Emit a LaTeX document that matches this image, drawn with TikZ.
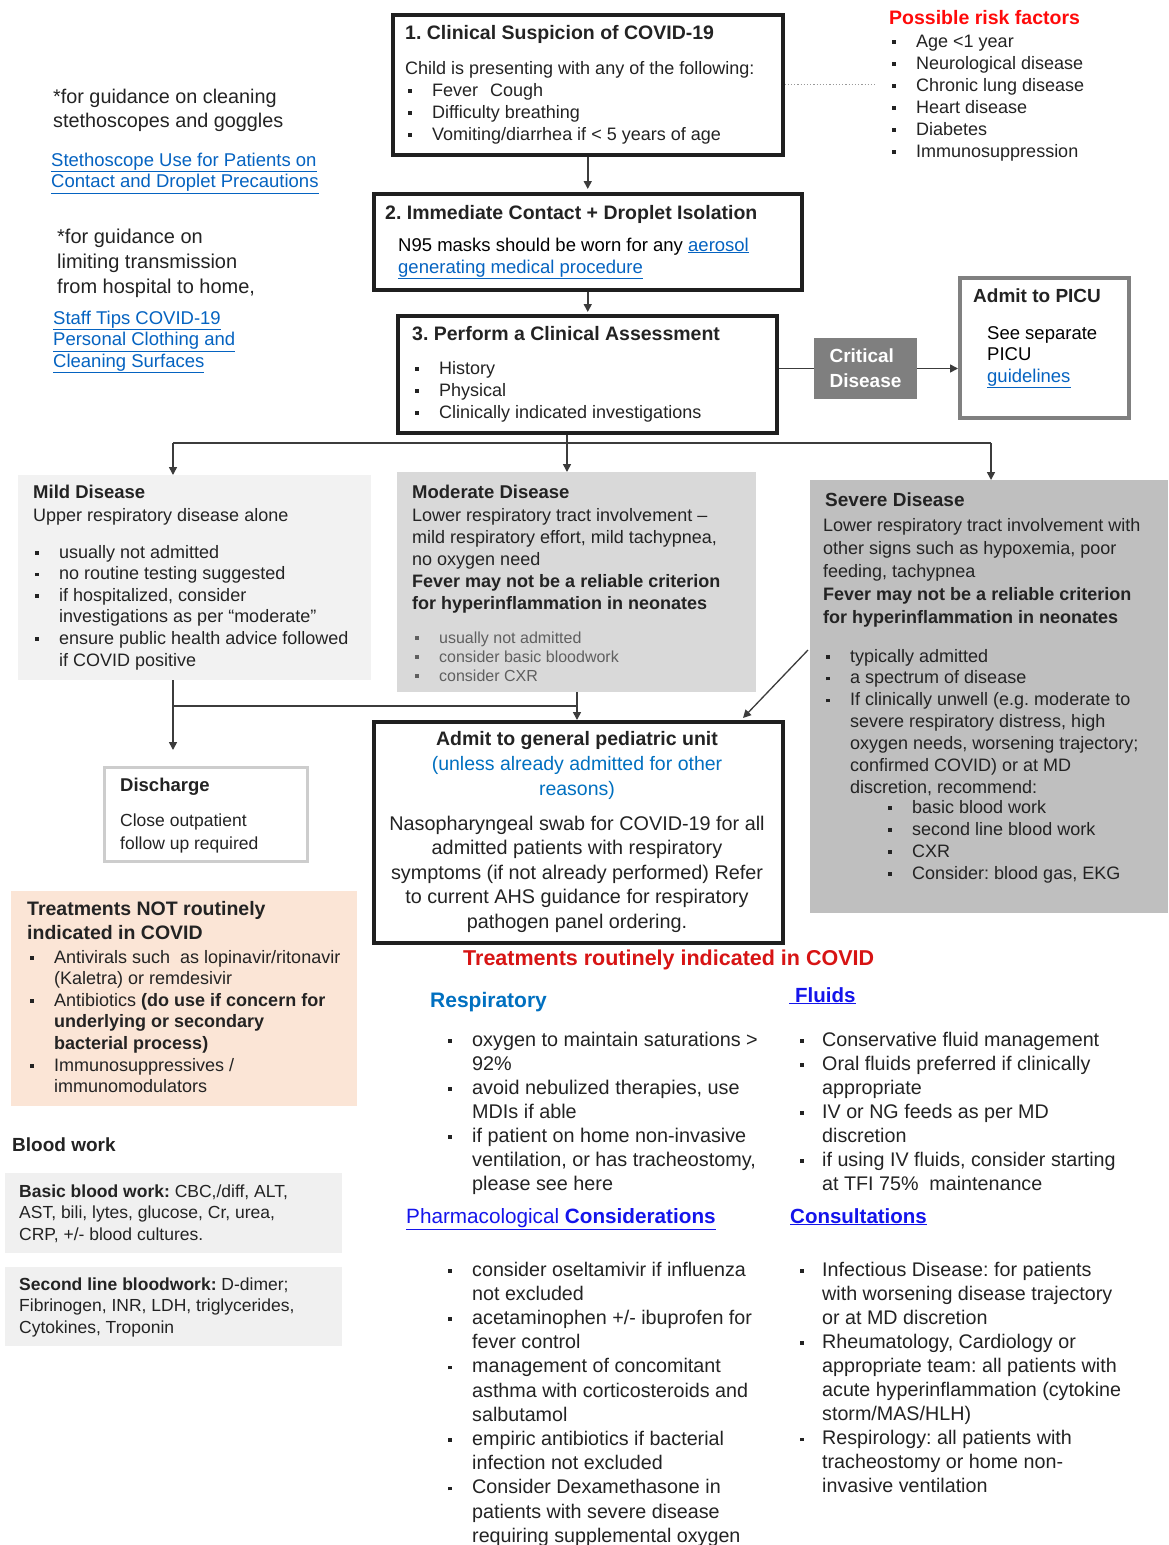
\documentclass[tikz,border=0pt]{standalone}
\usepackage{fontspec}
\setmainfont{Liberation Sans}
\usetikzlibrary{arrows.meta}
\frenchspacing
\definecolor{txtc}{RGB}{35,35,35}
\definecolor{linkc}{RGB}{5,99,193}
\definecolor{blueh}{RGB}{0,112,192}
\definecolor{pureb}{RGB}{20,20,235}
\definecolor{redr}{RGB}{255,10,10}
\definecolor{redt}{RGB}{215,20,20}
\definecolor{mildc}{RGB}{242,242,242}
\definecolor{modc}{RGB}{217,217,217}
\definecolor{sevc}{RGB}{191,191,191}
\definecolor{critc}{RGB}{127,127,127}
\definecolor{peach}{RGB}{251,229,214}
\definecolor{bloodc}{RGB}{240,240,240}
\definecolor{picuc}{RGB}{128,128,128}
\definecolor{disc}{RGB}{205,205,205}
\definecolor{linec}{RGB}{60,60,60}
\definecolor{smallg}{RGB}{95,95,95}
\newcommand\fs[2]{\fontsize{#1}{#2}\selectfont}
\newcommand\bu{\makebox[24pt][l]{\rule[3.5pt]{3.6pt}{3.6pt}}}
\newcommand\bv{\makebox[22pt][l]{\rule[3.5pt]{3.6pt}{3.6pt}}}
\newcommand\ind{\hspace*{24pt}}
\newcommand\inv{\hspace*{22pt}}
\newcommand\lnk[1]{\textcolor{linkc}{\underline{#1}}}
\newcommand\tl[1]{\begin{tabular}[t]{@{}l@{}}#1\end{tabular}}
\newcommand\tc[1]{\begin{tabular}[t]{@{}c@{}}#1\end{tabular}}
\begin{document}
\begin{tikzpicture}[x=1pt,y=-1pt,
  txt/.style={inner sep=0pt, anchor=base west, text=txtc},
  ctxt/.style={inner sep=0pt, anchor=base, text=txtc},
  bbox/.style={draw=black!88, line width=3.5pt, fill=white, anchor=north west, inner sep=0pt},
  fbox/.style={anchor=north west, inner sep=0pt},
  line/.style={draw=linec, line width=1.6pt},
  arr/.style={line, -{Triangle[length=8pt,width=8pt]}}
]
\useasboundingbox (0,0) rectangle (1168,1545);
\fill[white] (0,0) rectangle (1168,1545);

% ---------- Box 1 ----------
\node[bbox, minimum width=390, minimum height=140] (b1) at (391,13) {};
\node[txt, font=\bfseries\fs{19.5}{22}] (b1t) at (405,39) {1. Clinical Suspicion of COVID-19};
\node[txt, font=\fs{18}{22}] (b1b) at (405,74) {Child is presenting with any of the following:};
\node[txt, font=\fs{18}{22}] (b1l) at (408,96) {\tl{\bu Fever\hspace{12pt}Cough\\\bu Difficulty breathing\\\bu Vomiting/diarrhea if \textless{} 5 years of age}};

% ---------- Risk factors ----------
\node[txt, font=\bfseries\fs{19.5}{22}, text=redr] (rft) at (889,24) {Possible risk factors};
\node[txt, font=\fs{18}{22.1}] (rfl) at (892,47) {\tl{\bu Age \textless1 year\\\bu Neurological disease\\\bu Chronic lung disease\\\bu Heart disease\\\bu Diabetes\\\bu Immunosuppression}};
\draw[draw=black!40, line width=1.2pt, dotted] (b1.east) -- ([xshift=-16pt]b1.east -| rfl.west);

% ---------- Left notes ----------
\node[txt, font=\fs{19.8}{24}] (n1) at (53,103) {\tl{*for guidance on cleaning\\stethoscopes and goggles}};
\node[txt, font=\fs{18.5}{21.5}] (l1) at (51,166) {\tl{\lnk{Stethoscope Use for Patients on}\\\lnk{Contact and Droplet Precautions}}};
\node[txt, font=\fs{20}{25}] (n2) at (57,243) {\tl{*for guidance on\\limiting transmission\\from hospital to home,}};
\node[txt, font=\fs{18.5}{21.5}] (l2) at (53,324) {\tl{\lnk{Staff Tips COVID-19}\\\lnk{Personal Clothing and}\\\lnk{Cleaning Surfaces}}};

% ---------- Box 2 ----------
\node[bbox, minimum width=428, minimum height=96] (b2) at (372,192) {};
\node[txt, font=\bfseries\fs{19.5}{22}] (b2t) at (385,219) {2. Immediate Contact + Droplet Isolation};
\node[txt, font=\fs{18.5}{22}, text=black] (b2b) at (398,251) {\tl{N95 masks should be worn for any \lnk{aerosol}\\\lnk{generating medical procedure}}};
\draw[arr, shorten >=3pt] (b1.south) -- (b2.north);

% ---------- Box 3 ----------
\node[bbox, minimum width=379, minimum height=117] (b3) at (396,314) {};
\node[txt, font=\bfseries\fs{19.5}{22}] (b3t) at (412,340) {3. Perform a Clinical Assessment};
\node[txt, font=\fs{18}{22}] (b3l) at (415,374) {\tl{\bu History\\\bu Physical\\\bu Clinically indicated investigations}};
\draw[arr, shorten >=2pt] (b2.south) -- (b2.south |- b3.north);

% ---------- Critical / PICU ----------
\node[fill=critc, minimum width=103, minimum height=61, inner sep=0pt, align=left, text=white, font=\bfseries\fs{19}{25}] (crit) at (865.5,368.5) {Critical\\Disease};
\node[draw=picuc, line width=4pt, fill=white, anchor=north west, inner sep=0pt, minimum width=169, minimum height=140] (picu) at (958,276) {};
\node[txt, font=\bfseries\fs{19}{22}] (pt) at (973,302) {Admit to PICU};
\node[txt, font=\fs{18.5}{21.5}, text=black] (pb) at (987,339) {\tl{See separate\\PICU\\\lnk{guidelines}}};
\draw[line] (b3.east |- crit.west) -- (crit.west);
\draw[arr] (crit.east) -- (crit.east -| picu.west);

% ---------- Severity boxes ----------
\node[fbox, fill=mildc, minimum width=353, minimum height=205] (mild) at (18,475) {};
\node[txt, font=\bfseries\fs{18.5}{22}] (mt) at (33,498) {Mild Disease};
\node[txt, font=\fs{18}{22}] (ms) at (33,521) {Upper respiratory disease alone};
\node[txt, font=\fs{18}{21.6}] (ml) at (35,558) {\tl{\bu usually not admitted\\\bu no routine testing suggested\\\bu if hospitalized, consider\\\ind investigations as per ``moderate''\\\bu ensure public health advice followed\\\ind if COVID positive}};

\node[fbox, fill=modc, minimum width=359, minimum height=220] (mod) at (397,472) {};
\node[txt, font=\bfseries\fs{18.5}{22}] (mdt) at (412,498) {Moderate Disease};
\node[txt, font=\fs{18}{22}] (mdb) at (412,521) {\tl{Lower respiratory tract involvement --\\mild respiratory effort, mild tachypnea,\\no oxygen need\\\textbf{Fever may not be a reliable criterion}\\\textbf{for hyperinflammation in neonates}}};
\node[txt, font=\fs{16}{19}, text=smallg] (mdl) at (415,643) {\tl{\bu usually not admitted\\\bu consider basic bloodwork\\\bu consider CXR}};

\node[fbox, fill=sevc, minimum width=358, minimum height=433] (sev) at (810,480) {};
\node[txt, font=\bfseries\fs{19}{22}] (st) at (825,506) {Severe Disease};
\node[txt, font=\fs{18}{23}] (sb) at (823,531) {\tl{Lower respiratory tract involvement with\\other signs such as hypoxemia, poor\\feeding, tachypnea\\\textbf{Fever may not be a reliable criterion}\\\textbf{for hyperinflammation in neonates}}};
\node[txt, font=\fs{18}{21.9}] (sl) at (826,662) {\tl{\bu typically admitted\\\bu a spectrum of disease\\\bu If clinically unwell (e.g. moderate to\\\ind severe respiratory distress, high\\\ind oxygen needs, worsening trajectory;\\\ind confirmed COVID) or at MD\\\ind discretion, recommend:}};
\node[txt, font=\fs{18}{22}] (ssl) at (888,813) {\tl{\bu basic blood work\\\bu second line blood work\\\bu CXR\\\bu Consider: blood gas, EKG}};

\coordinate (jm) at (173,443);
\coordinate (jc) at (567,443);
\coordinate (js) at (991,443);
\draw[line] (b3.south -| jc) -- (jc);
\draw[line] (jm) -- (js);
\draw[arr] (jm) -- (jm |- mild.north);
\draw[arr] (jc) -- (jc |- mod.north);
\draw[arr] (js) -- (js |- sev.north);

% ---------- Discharge ----------
\node[draw=disc, line width=3pt, fill=white, anchor=north west, inner sep=0pt, minimum width=203, minimum height=94] (dis) at (103,766) {};
\node[txt, font=\bfseries\fs{18.5}{22}] (dt) at (120,791) {Discharge};
\node[txt, font=\fs{17.5}{23}] (db) at (120,826) {\tl{Close outpatient\\follow up required}};

% ---------- Admit ----------
\node[bbox, minimum width=409, minimum height=221] (adm) at (372,720) {};
\node[ctxt, font=\bfseries\fs{19.5}{22}] (at) at (577,745) {Admit to general pediatric unit};
\node[ctxt, font=\fs{19.5}{25}, text=blueh] (au) at (577,770) {\tc{(unless already admitted for other\\reasons)}};
\node[ctxt, font=\fs{19.8}{24.5}] (ab) at (577,830) {\tc{Nasopharyngeal swab for COVID-19 for all\\admitted patients with respiratory\\symptoms (if not already performed) Refer\\to current AHS guidance for respiratory\\pathogen panel ordering.}};

\coordinate (ja) at (577,706);
\coordinate (sd) at (808,650);
\coordinate (ad) at (743,718);
\draw[arr, shorten >=16pt] (mild.south -| jm) -- (jm |- dis.north);
\draw[line] (jm |- ja) -- (ja);
\draw[arr] (mod.south -| ja) -- (ja |- adm.north);
\draw[draw=linec, line width=1.3pt, -{Triangle[length=8pt,width=8pt]}] (sd) -- (ad);

% ---------- Treatments NOT ----------
\node[fbox, fill=peach, minimum width=346, minimum height=215] (tn) at (11,891) {};
\node[txt, font=\bfseries\fs{19.5}{24}] (tnt) at (27,915) {\tl{Treatments NOT routinely\\indicated in COVID}};
\node[txt, font=\fs{18}{21.6}] (tnl) at (30,963) {\tl{\bu Antivirals such\ \ as lopinavir/ritonavir\\\ind (Kaletra) or remdesivir\\\bu Antibiotics \textbf{(do use if concern for}\\\ind \textbf{underlying or secondary}\\\ind \textbf{bacterial process)}\\\bu Immunosuppressives /\\\ind immunomodulators}};

% ---------- Blood work ----------
\node[txt, font=\bfseries\fs{19}{22}] (bw) at (12,1151) {Blood work};
\node[fbox, fill=bloodc, minimum width=337, minimum height=80] (bb) at (5,1173) {};
\node[txt, font=\fs{17.5}{21.6}] (bbt) at (19,1197) {\tl{\textbf{Basic blood work:} CBC,/diff, ALT,\\AST, bili, lytes, glucose, Cr, urea,\\CRP, +/- blood cultures.}};
\node[fbox, fill=bloodc, minimum width=337, minimum height=79] (sb2) at (5,1267) {};
\node[txt, font=\fs{17.5}{21.6}] (sbt) at (19,1290) {\tl{\textbf{Second line bloodwork:} D-dimer;\\Fibrinogen, INR, LDH, triglycerides,\\Cytokines, Troponin}};

% ---------- Treatments routinely ----------
\node[txt, font=\bfseries\fs{21.5}{24}, text=redt] (tr) at (463,965) {Treatments routinely indicated in COVID};
\node[txt, font=\bfseries\fs{21}{24}, text=blueh] (rh) at (430,1007) {Respiratory};
\node[txt, font=\fs{19.8}{24}] (rl) at (448,1046) {\tl{\bu oxygen to maintain saturations \textgreater\\\ind 92\%\\\bu avoid nebulized therapies, use\\\ind MDIs if able\\\bu if patient on home non-invasive\\\ind ventilation, or has tracheostomy,\\\ind please see here}};
\node[txt, font=\fs{20.7}{24}, text=pureb] (ph) at (406,1223) {\underline{Pharmacological \textbf{Considerations}}};
\node[txt, font=\fs{19.7}{24.2}] (pl) at (448,1276) {\tl{\bu consider oseltamivir if influenza\\\ind not excluded\\\bu acetaminophen +/- ibuprofen for\\\ind fever control\\\bu management of concomitant\\\ind asthma with corticosteroids and\\\ind salbutamol\\\bu empiric antibiotics if bacterial\\\ind infection not excluded\\\bu Consider Dexamethasone in\\\ind patients with severe disease\\\ind requiring supplemental oxygen}};
\node[txt, font=\bfseries\fs{20.5}{24}, text=pureb] (fh) at (789,1002) {\underline{\hspace{6pt}Fluids}};
\node[txt, font=\fs{19.7}{24}] (fl) at (800,1046) {\tl{\bv Conservative fluid management\\\bv Oral fluids preferred if clinically\\\inv appropriate\\\bv IV or NG feeds as per MD\\\inv discretion\\\bv if using IV fluids, consider starting\\\inv at TFI 75\%\ \ maintenance}};
\node[txt, font=\bfseries\fs{20.5}{24}, text=pureb] (ch) at (790,1223) {\underline{Consultations}};
\node[txt, font=\fs{19.7}{24.1}] (cl) at (800,1276) {\tl{\bv Infectious Disease: for patients\\\inv with worsening disease trajectory\\\inv or at MD discretion\\\bv Rheumatology, Cardiology or\\\inv appropriate team: all patients with\\\inv acute hyperinflammation (cytokine\\\inv storm/MAS/HLH)\\\bv Respirology: all patients with\\\inv tracheostomy or home non-\\\inv invasive ventilation}};
\end{tikzpicture}
\end{document}
